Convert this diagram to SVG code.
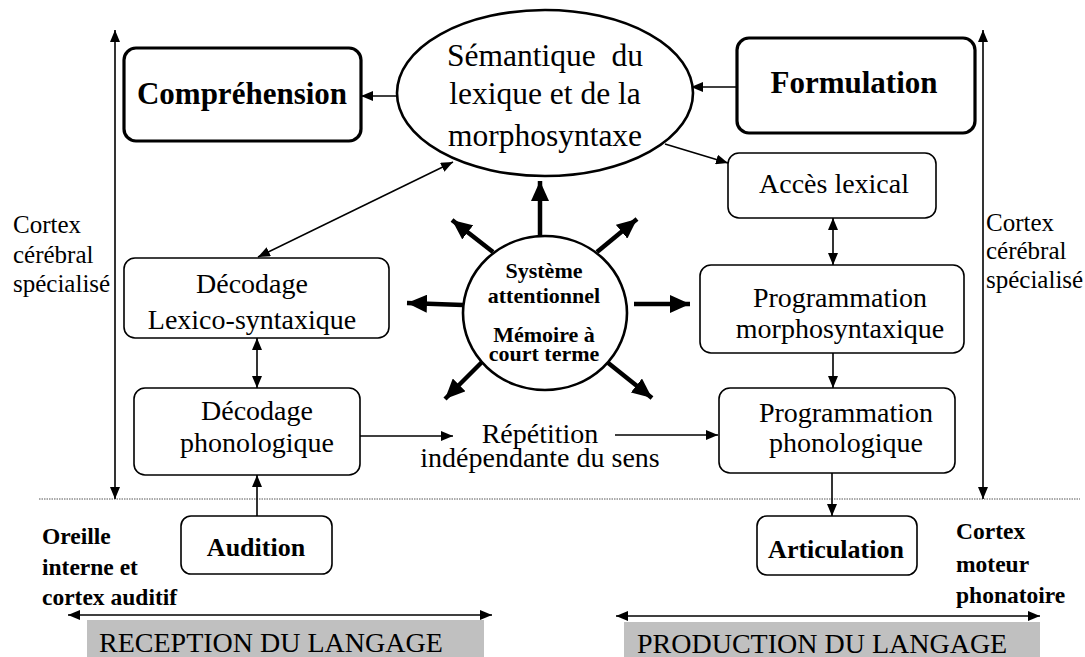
<svg xmlns="http://www.w3.org/2000/svg" width="1085" height="657" viewBox="0 0 1085 657">
<style>
.box{fill:#fff;stroke:#000;stroke-width:1.6}
.thick{fill:#fff;stroke:#000;stroke-width:3.2}
.ln{stroke:#000;stroke-width:1.6;fill:none}
.th{stroke:#000;stroke-width:4.5;fill:none}
</style>
<defs>
<marker id="a" viewBox="0 0 12 10" refX="12" refY="5" markerWidth="12" markerHeight="10" markerUnits="userSpaceOnUse" orient="auto-start-reverse"><path d="M0,0L12,5L0,10z"/></marker>
<marker id="A" viewBox="0 0 20 18" refX="20" refY="9" markerWidth="20" markerHeight="18" markerUnits="userSpaceOnUse" orient="auto"><path d="M0,0L20,9L0,18z"/></marker>
</defs>
<rect width="1085" height="657" fill="#fff"/>

<g id="bands">
<line x1="39" y1="499" x2="1080" y2="499" stroke="#555" stroke-width="1" stroke-dasharray="1.5,1"/>
<rect x="87" y="620" width="397" height="37" fill="#c0c0c0"/>
<text x="99" y="652" font-size="28" font-family="Liberation Serif">RECEPTION DU LANGAGE</text>
<rect x="624" y="622" width="416" height="35" fill="#c0c0c0"/>
<text x="637" y="653" font-size="28" font-family="Liberation Serif">PRODUCTION DU LANGAGE</text>
</g>

<g id="labels">
<text x="13" y="233" font-size="25" font-family="Liberation Serif">Cortex</text>
<text x="13" y="263" font-size="25" font-family="Liberation Serif">cérébral</text>
<text x="13" y="292" font-size="25" font-family="Liberation Serif">spécialisé</text>
<text x="986" y="231" font-size="25" font-family="Liberation Serif">Cortex</text>
<text x="986" y="259" font-size="25" font-family="Liberation Serif">cérébral</text>
<text x="986" y="288" font-size="25" font-family="Liberation Serif">spécialisé</text>
<text x="42" y="544" font-size="23.5" font-weight="bold" font-family="Liberation Serif">Oreille</text>
<text x="42" y="575" font-size="23.5" font-weight="bold" font-family="Liberation Serif">interne et</text>
<text x="42" y="605" font-size="23.5" font-weight="bold" font-family="Liberation Serif">cortex auditif</text>
<text x="956" y="539" font-size="23.5" font-weight="bold" font-family="Liberation Serif">Cortex</text>
<text x="956" y="572" font-size="23.5" font-weight="bold" font-family="Liberation Serif">moteur</text>
<text x="956" y="603" font-size="23.5" font-weight="bold" font-family="Liberation Serif">phonatoire</text>
<text x="540" y="443" font-size="28" text-anchor="middle" font-family="Liberation Serif">Répétition</text>
<text x="540" y="467" font-size="28" text-anchor="middle" font-family="Liberation Serif">indépendante du sens</text>
</g>

<g id="connectors">
<line class="ln" x1="115" y1="30" x2="115" y2="499" marker-start="url(#a)" marker-end="url(#a)"/>
<line class="ln" x1="983" y1="30" x2="983" y2="499" marker-start="url(#a)" marker-end="url(#a)"/>
<line class="ln" x1="68" y1="615" x2="492" y2="615" marker-start="url(#a)" marker-end="url(#a)"/>
<line class="ln" x1="616" y1="616" x2="1040" y2="616" marker-start="url(#a)" marker-end="url(#a)"/>
<line class="ln" x1="397" y1="96" x2="361" y2="96" marker-end="url(#a)"/>
<line class="ln" x1="737" y1="87" x2="691" y2="87" marker-end="url(#a)"/>
<line class="ln" x1="665" y1="144" x2="728" y2="163" marker-end="url(#a)"/>
<line class="ln" x1="453" y1="162" x2="258" y2="257" marker-start="url(#a)" marker-end="url(#a)"/>
<line class="ln" x1="833" y1="218" x2="833" y2="265" marker-start="url(#a)" marker-end="url(#a)"/>
<line class="ln" x1="833" y1="353" x2="833" y2="388" marker-end="url(#a)"/>
<line class="ln" x1="832" y1="473" x2="832" y2="516" marker-end="url(#a)"/>
<line class="ln" x1="257" y1="338" x2="257" y2="388" marker-start="url(#a)" marker-end="url(#a)"/>
<line class="ln" x1="257" y1="516" x2="257" y2="475" marker-end="url(#a)"/>
<line class="ln" x1="360" y1="436" x2="453" y2="436" marker-end="url(#a)"/>
<line class="ln" x1="615" y1="435" x2="718" y2="435" marker-end="url(#a)"/>
<line class="th" x1="540" y1="237" x2="540" y2="181" marker-end="url(#A)"/>
<line class="th" x1="493" y1="252" x2="452" y2="220" marker-end="url(#A)"/>
<line class="th" x1="597" y1="252" x2="637" y2="219" marker-end="url(#A)"/>
<line class="th" x1="463" y1="305" x2="407" y2="303" marker-end="url(#A)"/>
<line class="th" x1="634" y1="304" x2="690" y2="304" marker-end="url(#A)"/>
<line class="th" x1="482" y1="362" x2="445" y2="399" marker-end="url(#A)"/>
<line class="th" x1="607" y1="362" x2="652" y2="398" marker-end="url(#A)"/>
</g>

<g id="comprehension">
<rect class="thick" x="124" y="48" width="237" height="93" rx="12"/>
<text x="242" y="104" font-size="31" font-weight="bold" text-anchor="middle" font-family="Liberation Serif">Compréhension</text>
</g>
<g id="formulation">
<rect class="thick" x="737" y="38" width="238" height="95" rx="12"/>
<text x="854" y="93" font-size="31" font-weight="bold" text-anchor="middle" font-family="Liberation Serif">Formulation</text>
</g>
<g id="semantique">
<ellipse cx="545" cy="93" rx="148" ry="83" fill="#fff" stroke="#000" stroke-width="2.6"/>
<text x="545" y="66" font-size="31.5" text-anchor="middle" font-family="Liberation Serif" xml:space="preserve">Sémantique  du</text>
<text x="545" y="104" font-size="31.5" text-anchor="middle" font-family="Liberation Serif">lexique et de la</text>
<text x="545" y="146" font-size="31.5" text-anchor="middle" font-family="Liberation Serif">morphosyntaxe</text>
</g>
<g id="acces">
<rect class="box" x="728" y="153" width="208" height="65" rx="11"/>
<text x="834" y="193" font-size="28" text-anchor="middle" font-family="Liberation Serif">Accès lexical</text>
</g>
<g id="attention">
<ellipse cx="545" cy="313" rx="82" ry="77" fill="#fff" stroke="#000" stroke-width="2.6"/>
<text x="544" y="278" font-size="22" font-weight="bold" text-anchor="middle" font-family="Liberation Serif">Système</text>
<text x="544" y="303" font-size="22" font-weight="bold" text-anchor="middle" font-family="Liberation Serif">attentionnel</text>
<text x="544" y="342" font-size="22" font-weight="bold" text-anchor="middle" font-family="Liberation Serif">Mémoire à</text>
<text x="544" y="361" font-size="22" font-weight="bold" text-anchor="middle" font-family="Liberation Serif">court terme</text>
</g>
<g id="decodage-lex">
<rect class="box" x="124" y="258" width="265" height="80" rx="11"/>
<text x="252" y="293" font-size="28" text-anchor="middle" font-family="Liberation Serif">Décodage</text>
<text x="252" y="329" font-size="28" text-anchor="middle" font-family="Liberation Serif">Lexico-syntaxique</text>
</g>
<g id="decodage-phono">
<rect class="box" x="134" y="388" width="226" height="87" rx="11"/>
<text x="257" y="420" font-size="28" text-anchor="middle" font-family="Liberation Serif">Décodage</text>
<text x="257" y="452" font-size="28" text-anchor="middle" font-family="Liberation Serif">phonologique</text>
</g>
<g id="prog-morpho">
<rect class="box" x="700" y="265" width="264" height="88" rx="11"/>
<text x="840" y="307" font-size="28" text-anchor="middle" font-family="Liberation Serif">Programmation</text>
<text x="840" y="338" font-size="28" text-anchor="middle" font-family="Liberation Serif">morphosyntaxique</text>
</g>
<g id="prog-phono">
<rect class="box" x="719" y="388" width="236" height="85" rx="11"/>
<text x="846" y="422" font-size="28" text-anchor="middle" font-family="Liberation Serif">Programmation</text>
<text x="846" y="452" font-size="28" text-anchor="middle" font-family="Liberation Serif">phonologique</text>
</g>
<g id="audition">
<rect class="box" x="181" y="516" width="151" height="58" rx="10"/>
<text x="256" y="556" font-size="26" font-weight="bold" text-anchor="middle" font-family="Liberation Serif">Audition</text>
</g>
<g id="articulation">
<rect class="box" x="757" y="516" width="160" height="59" rx="10"/>
<text x="836" y="558" font-size="26" font-weight="bold" text-anchor="middle" font-family="Liberation Serif">Articulation</text>
</g>
</svg>
